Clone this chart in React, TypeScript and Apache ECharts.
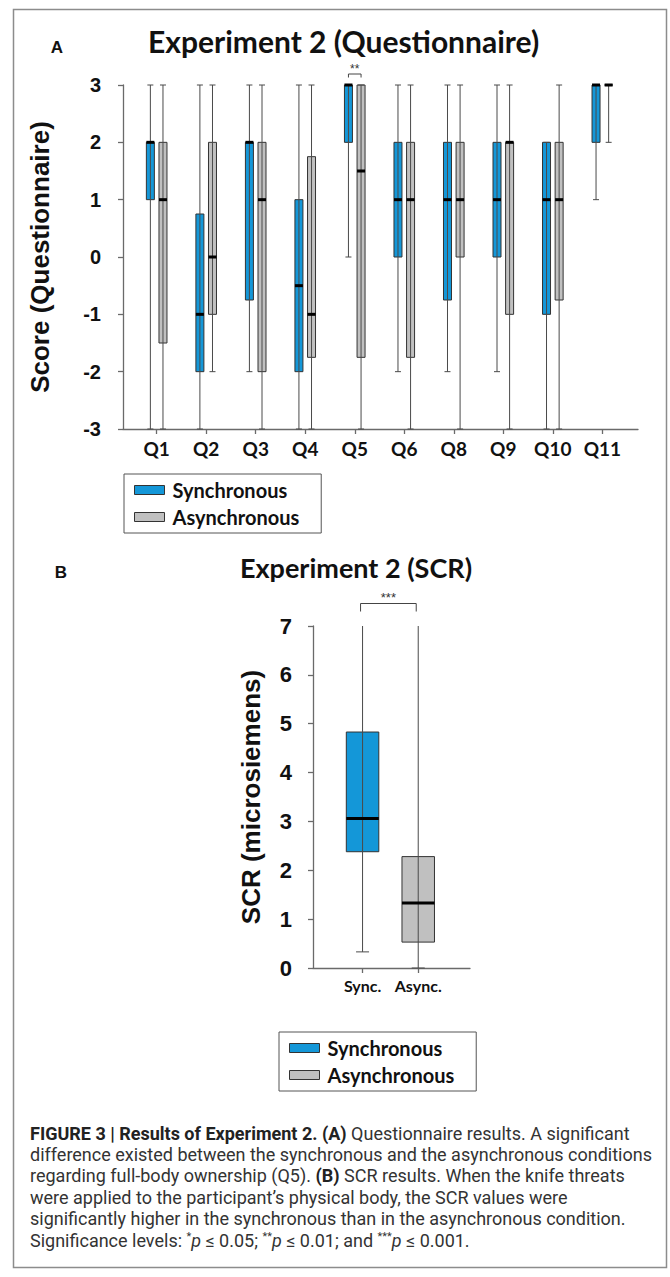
import React, { useEffect, useRef } from 'react';
import * as echarts from 'echarts';

// ---------- DATA ----------
const questions = ['Q1', 'Q2', 'Q3', 'Q4', 'Q5', 'Q6', 'Q8', 'Q9', 'Q10', 'Q11'];
// each entry: [min, Q1, median, Q3, max]
const syncQuestionnaire = [
  [-3, 1, 2, 2, 3],
  [-3, -2, -1, 0.75, 3],
  [-2, -0.75, 2, 2, 3],
  [-3, -2, -0.5, 1, 3],
  [0, 2, 3, 3, 3],
  [-2, 0, 1, 2, 3],
  [-2, -0.75, 1, 2, 3],
  [-2, 0, 1, 2, 3],
  [-3, -1, 1, 2, 2],
  [1, 2, 3, 3, 3],
];
const asyncQuestionnaire = [
  [-3, -1.5, 1, 2, 3],
  [-2, -1, 0, 2, 3],
  [-3, -2, 1, 2, 3],
  [-3, -1.75, -1, 1.75, 3],
  [-3, -1.75, 1.5, 3, 3],
  [-3, -1.75, 1, 2, 3],
  [-3, 0, 1, 2, 3],
  [-3, -1, 2, 2, 3],
  [-3, -0.75, 1, 2, 3],
  [2, 3, 3, 3, 3],
];
const scrConditions = ['Sync.', 'Async.'];
const scrSync = [0.33, 2.38, 3.06, 4.83, 7];
const scrAsync = [0, 0.53, 1.33, 2.28, 7];
const seriesNames = ['Synchronous', 'Asynchronous'];
const scoreRange = [-3, 3];
const scrRange = [0, 7];

const captionLines = [
  '{b|FIGURE 3 | Results of Experiment 2. (A)} Questionnaire results. A significant',
  'difference existed between the synchronous and the asynchronous conditions',
  'regarding full-body ownership (Q5). {b|(B)} SCR results. When the knife threats',
  'were applied to the participant\u2019s physical body, the SCR values were',
  'significantly higher in the synchronous than in the asynchronous condition.',
  'Significance levels: {s|*}{i|p} \u2264 0.05; {s|**}{i|p} \u2264 0.01; and {s|***}{i|p} \u2264 0.001.',
];

// ---------- STYLE ----------
const BLUE = '#1497d8';
const GRAY = '#c0c0c0';
const AXIS = '#6a6a6a';
const CAL = 'Lato, "Open Sans", sans-serif';
const ARIAL = '"Liberation Sans", Arial, sans-serif';
const CAP_FS = 18;

function boxRenderer(cfg: any) {
  return (params: any, api: any) => {
    const xv = api.value(0);
    const vals = [1, 2, 3, 4, 5].map((i) => api.value(i));
    const pts = vals.map((v) => api.coord([xv, v]));
    const cx = pts[0][0] + cfg.offset;
    const w = cfg.boxWidth;
    const yMin = pts[0][1];
    const yQ1 = pts[1][1];
    const yMed = pts[2][1];
    const yQ3 = pts[3][1];
    const yMax = pts[4][1];
    const lineStyle = { stroke: '#4a4a4a', lineWidth: 1 };
    const children: any[] = [
      {
        type: 'rect',
        shape: { x: cx - w / 2, y: yQ3, width: w, height: yQ1 - yQ3 },
        style: { fill: cfg.color, stroke: '#333', lineWidth: 1 },
      },
      { type: 'line', shape: { x1: cx, y1: yMax, x2: cx, y2: yMin }, style: lineStyle },
    ];
    if (cfg.capMin) {
      children.push({
        type: 'line',
        shape: { x1: cx - cfg.cap / 2, y1: yMin, x2: cx + cfg.cap / 2, y2: yMin },
        style: lineStyle,
      });
    }
    if (cfg.capMax) {
      children.push({
        type: 'line',
        shape: { x1: cx - cfg.cap / 2, y1: yMax, x2: cx + cfg.cap / 2, y2: yMax },
        style: lineStyle,
      });
    }
    children.push({
      type: 'line',
      shape: { x1: cx - w / 2, y1: yMed, x2: cx + w / 2, y2: yMed },
      style: { stroke: '#000', lineWidth: 3 },
    });
    return { type: 'group', children };
  };
}

function legendFor(left: number, top: number) {
  return {
    orient: 'vertical',
    left,
    top,
    padding: [6, 22, 6, 10],
    itemGap: 7,
    itemWidth: 30,
    itemHeight: 9,
    selectedMode: false,
    borderColor: '#555',
    borderWidth: 1,
    backgroundColor: '#fff',
    textStyle: { fontFamily: CAL, fontWeight: 'bold', fontSize: 20, color: '#111', lineHeight: 20, padding: [0, 0, 0, 3] },
    data: [
      { name: seriesNames[0], icon: 'rect', itemStyle: { color: BLUE, borderColor: '#333', borderWidth: 1 } },
      { name: seriesNames[1], icon: 'rect', itemStyle: { color: GRAY, borderColor: '#333', borderWidth: 1 } },
    ],
  };
}

export default function App() {
  const ref = useRef<HTMLDivElement>(null);

  useEffect(() => {
    if (!ref.current) return;
    const chart = echarts.init(ref.current, null, { renderer: 'svg' });

    const qTicks = questions.map((_, i) => i);
    const scrTicks = scrConditions.map((_, i) => i);

    const option: any = {
      animation: false,
      backgroundColor: '#fff',
      textStyle: { fontFamily: ARIAL },
      grid: [
        { left: 123, right: 32, top: 85, height: 344 },
        { left: 313, width: 157, top: 626, height: 342 },
      ],
      xAxis: [
        {
          type: 'value',
          gridIndex: 0,
          min: -0.68,
          max: 9.72,
          splitLine: { show: false },
          axisLine: { show: true, onZero: false, lineStyle: { color: AXIS, width: 1.3 } },
          axisTick: { show: true, customValues: qTicks, length: 5, lineStyle: { color: AXIS, width: 1.3 } },
          axisLabel: {
            customValues: qTicks,
            formatter: (v: number) => questions[Math.round(v)] ?? '',
            fontFamily: CAL,
            fontWeight: 'bold',
            fontSize: 19,
            color: '#111',
            margin: 10,
          },
        },
        {
          type: 'value',
          gridIndex: 1,
          min: -0.89,
          max: 1.93,
          splitLine: { show: false },
          axisLine: { show: true, onZero: false, lineStyle: { color: AXIS, width: 1.3 } },
          axisTick: { show: true, customValues: scrTicks, length: 5, lineStyle: { color: AXIS, width: 1.3 } },
          axisLabel: {
            customValues: scrTicks,
            formatter: (v: number) => scrConditions[Math.round(v)] ?? '',
            fontFamily: CAL,
            fontWeight: 'bold',
            fontSize: 16,
            color: '#111',
            margin: 9,
          },
        },
      ],
      yAxis: [
        {
          type: 'value',
          gridIndex: 0,
          min: scoreRange[0],
          max: scoreRange[1],
          interval: 1,
          name: 'Score (Questionnaire)',
          nameLocation: 'middle',
          nameRotate: 90,
          nameGap: 70,
          nameTextStyle: { fontFamily: ARIAL, fontWeight: 'bold', fontSize: 26, color: '#111' },
          splitLine: { show: false },
          axisLine: { show: true, onZero: false, lineStyle: { color: AXIS, width: 1.3 } },
          axisTick: { show: true, length: 5, lineStyle: { color: AXIS, width: 1.3 } },
          axisLabel: { fontFamily: ARIAL, fontWeight: 'bold', fontSize: 20, color: '#111', margin: 22 },
        },
        {
          type: 'value',
          gridIndex: 1,
          min: scrRange[0],
          max: scrRange[1],
          interval: 1,
          name: 'SCR (microsiemens)',
          nameLocation: 'middle',
          nameRotate: 90,
          nameGap: 49,
          nameTextStyle: { fontFamily: ARIAL, fontWeight: 'bold', fontSize: 26, color: '#111' },
          splitLine: { show: false },
          axisLine: { show: true, onZero: false, lineStyle: { color: AXIS, width: 1.3 } },
          axisTick: { show: true, length: 5, lineStyle: { color: AXIS, width: 1.3 } },
          axisLabel: { fontFamily: ARIAL, fontWeight: 'bold', fontSize: 22, color: '#111', margin: 21 },
        },
      ],
      legend: [legendFor(124, 474), legendFor(279, 1032)],
      series: [
        {
          type: 'custom',
          name: seriesNames[0],
          xAxisIndex: 0,
          yAxisIndex: 0,
          itemStyle: { color: BLUE },
          encode: { x: 0, y: [1, 2, 3, 4, 5] },
          renderItem: boxRenderer({ offset: -6.3, boxWidth: 8, cap: 6, color: BLUE, capMin: true, capMax: true }),
          data: syncQuestionnaire.map((s, i) => [i, ...s]),
        },
        {
          type: 'custom',
          name: seriesNames[1],
          xAxisIndex: 0,
          yAxisIndex: 0,
          itemStyle: { color: GRAY },
          encode: { x: 0, y: [1, 2, 3, 4, 5] },
          renderItem: boxRenderer({ offset: 6.3, boxWidth: 8, cap: 6, color: GRAY, capMin: true, capMax: true }),
          data: asyncQuestionnaire.map((s, i) => [i, ...s]),
        },
        {
          type: 'custom',
          name: seriesNames[0],
          xAxisIndex: 1,
          yAxisIndex: 1,
          itemStyle: { color: BLUE },
          encode: { x: 0, y: [1, 2, 3, 4, 5] },
          renderItem: boxRenderer({ offset: 0, boxWidth: 32.5, cap: 13, color: BLUE, capMin: true, capMax: false }),
          data: [[0, ...scrSync]],
        },
        {
          type: 'custom',
          name: seriesNames[1],
          xAxisIndex: 1,
          yAxisIndex: 1,
          itemStyle: { color: GRAY },
          encode: { x: 0, y: [1, 2, 3, 4, 5] },
          renderItem: boxRenderer({ offset: 0, boxWidth: 32.5, cap: 13, color: GRAY, capMin: true, capMax: false }),
          data: [[1, ...scrAsync]],
        },
      ],
    };

    chart.setOption(option);

    // significance brackets computed from the axes
    const q5 = chart.convertToPixel({ gridIndex: 0 }, [questions.indexOf('Q5'), scoreRange[1]]) as number[];
    const sS = chart.convertToPixel({ gridIndex: 1 }, [0, scrRange[1]]) as number[];
    const sA = chart.convertToPixel({ gridIndex: 1 }, [1, scrRange[1]]) as number[];

    const txt = (x: number, y: number, text: string, style: any) => ({
      type: 'text',
      x,
      y,
      silent: true,
      style: { text, ...style },
    });

    const graphic: any[] = [
      {
        type: 'rect',
        shape: { x: 13.5, y: 9.5, width: 653, height: 1258 },
        style: { fill: 'none', stroke: '#8c8c8c', lineWidth: 1.5 },
        silent: true,
      },
      txt(57, 47, 'A', { font: `bold 17px ${ARIAL}`, fill: '#111', align: 'center', verticalAlign: 'middle' }),
      txt(61, 572, 'B', { font: `bold 17px ${ARIAL}`, fill: '#111', align: 'center', verticalAlign: 'middle' }),
      txt(148, 41, 'Experiment 2 (Questionnaire)', { font: `bold 30px ${CAL}`, fill: '#111', align: 'left', verticalAlign: 'middle' }),
      txt(240, 567, 'Experiment 2 (SCR)', { font: `bold 27px ${CAL}`, fill: '#111', align: 'left', verticalAlign: 'middle' }),
      {
        type: 'polyline',
        silent: true,
        shape: {
          points: [
            [q5[0] - 6.3, q5[1] - 7.5],
            [q5[0] - 6.3, q5[1] - 11],
            [q5[0] + 6.3, q5[1] - 11],
            [q5[0] + 6.3, q5[1] - 7.5],
          ],
        },
        style: { stroke: '#444', lineWidth: 1, fill: 'none' },
      },
      txt(q5[0], q5[1] - 16.5, '**', { font: `12px ${ARIAL}`, fill: '#333', align: 'center', verticalAlign: 'middle' }),
      {
        type: 'polyline',
        silent: true,
        shape: {
          points: [
            [sS[0] - 2, sS[1] - 14.5],
            [sS[0] - 2, sS[1] - 22.5],
            [sA[0] - 2, sA[1] - 22.5],
            [sA[0] - 2, sA[1] - 14.5],
          ],
        },
        style: { stroke: '#444', lineWidth: 1, fill: 'none' },
      },
      txt((sS[0] + sA[0]) / 2 - 2, sS[1] - 28.5, '***', { font: `13px ${ARIAL}`, fill: '#333', align: 'center', verticalAlign: 'middle' }),
    ];

    captionLines.forEach((line, k) => {
      graphic.push({
        type: 'text',
        x: 30,
        y: 1133 + k * 21.4,
        silent: true,
        style: {
          text: line,
          fontFamily: 'Roboto',
          fontSize: CAP_FS,
          fill: '#333',
          align: 'left',
          verticalAlign: 'middle',
          rich: {
            b: { fontFamily: 'Roboto', fontSize: CAP_FS, fontWeight: 'bold', fill: '#222' },
            i: { fontFamily: 'Roboto', fontSize: CAP_FS, fontStyle: 'italic', fill: '#333' },
            s: { fontFamily: 'Roboto', fontSize: 11, fill: '#333', verticalAlign: 'top' },
          },
        },
      });
    });

    chart.setOption({ graphic });

    return () => chart.dispose();
  }, []);

  return (
    <div
      ref={ref}
      style={{ position: 'absolute', left: 0, top: 0, width: 670, height: 1277, background: '#fff' }}
    />
  );
}
